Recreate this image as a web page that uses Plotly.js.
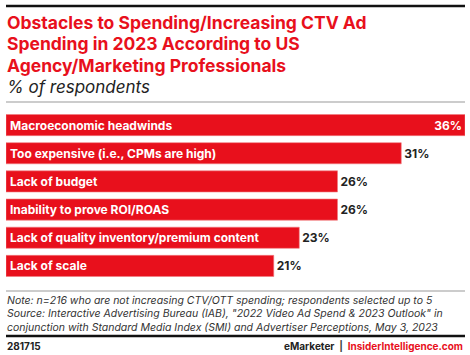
<!DOCTYPE html>
<html><head><meta charset="utf-8">
<script src="https://cdn.plot.ly/plotly-3.0.1.min.js"></script>
<style>body{margin:0;padding:0;background:#fff}#c{width:470px;height:355px}</style>
</head><body><div id="c"></div>
<script>
const categories = ["Macroeconomic headwinds","Too expensive (i.e., CPMs are high)","Lack of budget","Inability to prove ROI/ROAS","Lack of quality inventory/premium content","Lack of scale"];
const values = [36,31,26,26,23,21];
const valueLabels = ["36%","31%","26%","26%","23%","21%"];

const W=470,H=355, plotTop=111, plotBot=280;
const py = p => (plotBot - p)/(plotBot - plotTop);
const FONT = "Inter, Roboto, sans-serif";
const RED = "#e8101c";

const maxV = Math.max(...values);
const trace = {
  type:'bar', orientation:'h', y:categories, x:values,
  marker:{color:RED, line:{color:'#f07a80', width:0.6}},
  text:valueLabels,
  textposition: values.map(v => v===maxV ? 'inside' : 'outside'),
  insidetextanchor:'end',
  textfont:{family:FONT, size:12, color: values.map(v => v===maxV ? '#ffffff' : '#222222'), weight:700},
  cliponaxis:false, hoverinfo:'none'
};

const annotations = categories.map(c => ({
  x:0, y:c, xref:'x', yref:'y', text:c, showarrow:false, xanchor:'left', xshift:2,
  font:{family:FONT, size:12, color:'#ffffff', weight:700}
}));
const titleLines = ["Obstacles to Spending/Increasing CTV Ad","Spending in 2023 According to US","Agency/Marketing Professionals"];
const titleY = [22,43.5,65];
titleLines.forEach((t,i)=>annotations.push({x:0,xref:'paper',y:py(titleY[i]),yref:'paper',text:t,showarrow:false,xanchor:'left',yanchor:'middle',xshift:-1,font:{family:FONT,size:17.5,color:RED,weight:700}}));
annotations.push({x:0,xref:'paper',y:py(87),yref:'paper',text:"<i>% of respondents</i>",showarrow:false,xanchor:'left',yanchor:'middle',xshift:-1,font:{family:FONT,size:17,color:'#222'}});
const notes = ["Note: n=216 who are not increasing CTV/OTT spending; respondents selected up to 5","Source: Interactive Advertising Bureau (IAB), \"2022 Video Ad Spend & 2023 Outlook\" in","conjunction with Standard Media Index (SMI) and Advertiser Perceptions, May 3, 2023"];
const noteY=[300,313.5,327];
notes.forEach((t,i)=>annotations.push({x:0,xref:'paper',y:py(noteY[i]),yref:'paper',text:"<i>"+t+"</i>",showarrow:false,xanchor:'left',yanchor:'middle',xshift:-1,font:{family:FONT,size:10.5,color:'#333'}}));
annotations.push({x:0,xref:'paper',y:py(346),yref:'paper',text:"281715",showarrow:false,xanchor:'left',yanchor:'middle',xshift:-1,font:{family:FONT,size:10,color:'#222',weight:700}});
annotations.push({x:1,xref:'paper',y:py(346),yref:'paper',text:"<span style='color:#222'>eMarketer</span>  |  <span style='color:"+RED+"'>InsiderIntelligence.com</span>",showarrow:false,xanchor:'right',yanchor:'middle',font:{family:FONT,size:10,weight:700}});

const shapes = [
  {type:'line',xref:'paper',yref:'paper',x0:0,x1:1,y0:py(6),y1:py(6),line:{color:'#111',width:2.5}},
  {type:'line',xref:'paper',yref:'paper',x0:0,x1:1,y0:py(102),y1:py(102),line:{color:'#999',width:1}},
  {type:'line',xref:'paper',yref:'paper',x0:0,x1:1,y0:py(291),y1:py(291),line:{color:'#999',width:1}},
  {type:'line',xref:'paper',yref:'paper',x0:0,x1:1,y0:py(336),y1:py(336),line:{color:'#111',width:2.5}}
];

const layout = {
  width:W, height:H, margin:{l:6,r:5,t:plotTop,b:H-plotBot,pad:0},
  paper_bgcolor:'#fff', plot_bgcolor:'#fff', showlegend:false, bargap:0.25,
  xaxis:{range:[0,maxV], visible:false, fixedrange:true},
  yaxis:{autorange:'reversed', visible:false, fixedrange:true, type:'category'},
  annotations, shapes
};
Plotly.newPlot('c',[trace],layout,{displayModeBar:false,staticPlot:true});
</script></body></html>
